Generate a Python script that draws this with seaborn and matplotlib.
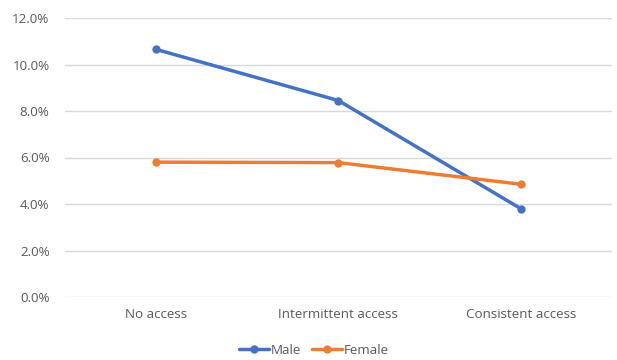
import pandas as pd
import matplotlib
matplotlib.use('Agg')
import matplotlib.pyplot as plt
import seaborn as sns
from matplotlib.ticker import PercentFormatter

categories = ['No access', 'Intermittent access', 'Consistent access']
male = [10.65, 8.45, 3.8]
female = [5.8, 5.78, 4.85]

df = pd.DataFrame({
    'access': categories * 2,
    'rate': male + female,
    'sex': ['Male'] * 3 + ['Female'] * 3,
})

sns.set_style('white')
plt.rcParams['font.family'] = ['Open Sans', 'DejaVu Sans']

fig = plt.figure(figsize=(6.17, 3.6), dpi=100)
ax = fig.add_axes([0.105, 0.175, 0.887, 0.775])

sns.lineplot(data=df, x='access', y='rate', hue='sex', sort=False,
             palette={'Male': '#4472C4', 'Female': '#ED7D31'},
             marker='o', markersize=6, markeredgewidth=0, linewidth=2.5, ax=ax)

ax.set_ylim(0, 12)
ax.set_xlim(-0.5, 2.5)
ax.set_yticks([0, 2, 4, 6, 8, 10, 12])
ax.yaxis.set_major_formatter(PercentFormatter(decimals=1))
ax.grid(axis='y', color='#D9D9D9', linewidth=1)
ax.set_axisbelow(True)
for s in ax.spines.values():
    s.set_visible(False)
ax.tick_params(axis='both', length=0, labelsize=9.6, colors='#595959', pad=8)
ax.tick_params(axis='y', pad=11)
ax.set_xlabel('')
ax.set_ylabel('')

leg = ax.legend(loc='upper center', bbox_to_anchor=(0.455, -0.125), ncol=2, frameon=False,
                fontsize=9.6, handlelength=2.3, columnspacing=0.8, handletextpad=0.1)
for t in leg.get_texts():
    t.set_color('#595959')

fig.savefig('out.png', dpi=100)
